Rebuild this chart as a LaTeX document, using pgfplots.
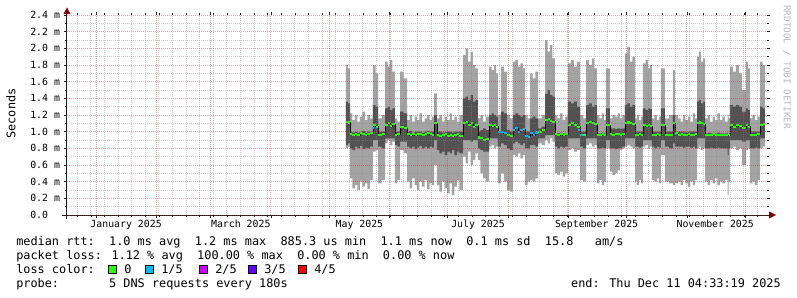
\documentclass[border=0pt]{standalone}
\usepackage{pgfplots}
\pgfplotsset{compat=1.18}
\usepackage{pgfplotstable}
\usepgfplotslibrary{fillbetween}
\usepackage{fontspec}
\setmainfont{DejaVu Sans Mono}

\definecolor{smokeL}{RGB}{163,163,163}
\definecolor{smokeD}{RGB}{82,82,82}
\definecolor{loss0}{RGB}{38,255,0}
\definecolor{loss1}{RGB}{0,184,255}
\definecolor{loss2}{RGB}{204,0,255}
\definecolor{loss3}{RGB}{102,0,255}
\definecolor{loss4}{RGB}{255,0,0}
\definecolor{mgrid}{RGB}{200,40,40}
\definecolor{mingrid}{RGB}{140,140,140}
\definecolor{axiscol}{RGB}{30,30,30}
\definecolor{arrowcol}{RGB}{127,0,0}
\definecolor{wmark}{RGB}{185,185,185}

% days since 1 Jan 2025; values in ms
\pgfplotstableread{
x T DT M DB B
128.6 1.80 1.36 1.12 0.84 0.80
129.6 1.76 1.34 1.11 0.86 0.82
130.7 1.22 1.00 0.97 0.80 0.44
131.9 1.14 0.99 0.96 0.78 0.32
133.2 1.20 1.00 0.97 0.82 0.36
134.4 1.12 0.99 0.96 0.80 0.30
135.8 1.18 1.00 0.98 0.83 0.40
137.0 1.24 1.01 0.97 0.79 0.34
138.4 1.14 0.99 0.96 0.81 0.38
139.6 1.20 1.00 0.97 0.80 0.31
140.9 1.16 1.00 0.98 0.82 0.42
142.5 1.80 1.32 1.08 0.90 0.76
143.8 1.70 1.30 1.06 0.90 0.78
145.1 1.16 1.00 0.96 0.82 0.38
146.9 1.20 1.00 0.97 0.80 0.42
148.7 1.84 1.28 1.08 0.92 0.86
150.0 1.78 1.30 1.10 0.92 0.90
151.2 1.86 1.26 1.07 0.92 0.84
152.5 1.72 1.28 1.09 0.92 0.88
153.8 1.16 1.00 0.96 0.84 0.38
155.1 1.12 1.00 0.97 0.82 0.42
156.4 1.72 1.24 1.06 0.88 0.78
158.2 1.64 1.22 1.04 0.88 0.74
160.0 1.14 1.00 0.97 0.82 0.40
161.3 1.20 1.01 0.96 0.80 0.32
162.6 1.12 0.99 0.97 0.82 0.44
163.9 1.18 1.00 0.96 0.79 0.36
165.1 1.14 1.00 0.97 0.81 0.30
166.4 1.22 1.00 0.97 0.83 0.40
167.7 1.12 0.99 0.96 0.80 0.34
169.0 1.16 1.00 0.97 0.82 0.42
170.3 1.20 1.01 0.98 0.80 0.31
171.6 1.14 1.00 0.97 0.82 0.38
172.9 1.18 1.00 0.96 0.81 0.36
173.9 1.46 1.20 1.10 0.90 0.60
175.4 1.16 1.00 0.96 0.78 0.36
176.7 1.20 1.00 0.95 0.74 0.28
178.0 1.12 0.99 0.96 0.76 0.40
179.3 1.18 1.00 0.97 0.72 0.32
180.6 1.14 1.00 0.95 0.76 0.26
181.9 1.22 1.00 0.96 0.74 0.38
183.1 1.14 0.99 0.95 0.78 0.24
184.4 1.18 1.00 0.96 0.72 0.34
185.7 1.12 1.00 0.97 0.76 0.42
187.0 1.20 1.00 0.95 0.74 0.30
188.8 1.92 1.40 1.10 0.90 0.70
190.1 2.00 1.42 1.12 0.90 0.62
191.4 1.84 1.38 1.08 0.90 0.76
192.7 1.96 1.44 1.10 0.88 0.60
193.9 1.80 1.36 1.06 0.90 0.66
195.2 1.76 1.38 1.08 0.90 0.74
196.5 1.16 1.00 0.93 0.80 0.66
197.8 1.20 1.02 0.92 0.78 0.50
199.1 1.12 1.04 0.90 0.76 0.44
200.6 1.18 1.02 0.91 0.76 0.40
202.2 1.78 1.20 1.08 0.92 0.82
203.5 1.74 1.22 1.07 0.92 0.84
204.7 1.80 1.20 1.08 0.92 0.80
205.8 1.70 1.18 1.06 0.92 0.82
206.8 1.20 1.00 1.00 0.82 0.38
208.3 1.78 1.24 1.00 0.86 0.50
209.8 1.72 1.22 0.98 0.84 0.40
211.4 1.20 1.02 0.96 0.80 0.30
213.0 1.16 1.00 0.95 0.78 0.28
214.5 1.84 1.20 1.02 0.86 0.72
215.8 1.86 1.22 1.04 0.88 0.70
217.1 1.78 1.20 1.00 0.86 0.74
218.3 1.82 1.18 1.02 0.84 0.68
219.6 1.76 1.20 1.03 0.86 0.72
220.7 1.20 1.00 0.95 0.80 0.36
222.0 1.16 1.00 0.94 0.80 0.40
223.3 1.70 1.16 0.98 0.84 0.42
224.6 1.64 1.18 0.96 0.84 0.40
226.0 1.72 1.16 0.99 0.82 0.44
227.4 1.16 1.04 1.00 0.92 0.86
229.2 1.20 1.06 1.02 0.92 0.84
231.0 2.10 1.45 1.14 0.96 0.90
232.3 1.96 1.50 1.15 0.96 0.86
233.5 2.04 1.44 1.13 0.96 0.92
234.8 1.88 1.42 1.12 0.96 0.88
236.1 1.20 0.98 0.97 0.82 0.50
237.4 1.16 0.98 0.96 0.80 0.48
238.7 1.22 0.99 0.97 0.82 0.52
240.0 1.14 0.98 0.96 0.81 0.46
241.4 1.18 0.98 0.97 0.82 0.50
242.8 1.82 1.36 1.08 0.92 0.78
244.3 1.86 1.34 1.10 0.92 0.80
245.9 1.78 1.36 1.08 0.92 0.76
247.4 1.84 1.30 1.06 0.92 0.78
249.0 1.20 1.00 0.96 0.82 0.42
250.6 1.16 1.00 0.96 0.80 0.40
252.1 1.86 1.32 1.10 0.92 0.84
253.6 1.80 1.34 1.12 0.92 0.86
255.1 1.88 1.30 1.10 0.92 0.82
256.4 1.76 1.32 1.09 0.92 0.84
257.7 1.20 0.98 0.96 0.80 0.38
259.0 1.16 0.98 0.96 0.80 0.42
260.3 1.22 0.99 0.97 0.81 0.36
261.3 1.14 0.98 0.96 0.80 0.40
262.3 1.76 1.28 1.08 0.90 0.80
264.4 1.16 1.04 0.97 0.80 0.52
265.7 1.20 1.04 0.96 0.80 0.48
267.0 1.18 1.03 0.97 0.79 0.50
268.3 1.22 1.04 0.97 0.80 0.54
269.5 1.16 1.03 0.96 0.80 0.78
270.8 1.20 1.04 0.97 0.82 0.80
272.1 1.94 1.32 1.10 0.92 0.82
273.4 2.02 1.34 1.11 0.92 0.84
274.7 1.84 1.30 1.10 0.92 0.82
276.0 1.90 1.32 1.09 0.92 0.80
277.3 1.16 1.00 0.96 0.82 0.40
278.3 1.20 1.00 0.96 0.82 0.36
279.3 1.14 1.00 0.97 0.81 0.42
280.4 1.18 1.00 0.96 0.82 0.38
281.4 1.82 1.28 1.08 0.90 0.82
282.7 1.86 1.26 1.07 0.90 0.84
283.9 1.76 1.28 1.08 0.90 0.80
285.0 1.80 1.27 1.07 0.90 0.82
286.0 1.16 1.00 0.96 0.82 0.42
287.3 1.20 1.00 0.96 0.80 0.40
288.6 1.14 1.00 0.97 0.82 0.44
289.6 1.18 1.00 0.96 0.81 0.38
290.6 1.76 1.28 1.08 0.90 0.72
292.7 1.16 1.00 0.96 0.82 0.40
294.8 1.20 1.00 0.96 0.80 0.38
296.8 1.74 1.20 1.10 0.86 0.36
297.8 1.20 1.00 0.98 0.82 0.38
299.4 1.16 1.00 0.96 0.82 0.40
300.7 1.12 1.00 0.97 0.82 0.36
301.9 1.20 1.00 0.96 0.81 0.42
303.2 1.14 0.99 0.96 0.82 0.38
304.5 1.18 1.00 0.97 0.82 0.34
305.8 1.12 1.00 0.96 0.81 0.40
307.1 1.22 1.00 0.96 0.82 0.36
308.2 1.16 1.00 0.97 0.80 0.42
309.2 1.90 1.36 1.10 0.92 0.80
310.2 1.96 1.38 1.11 0.92 0.82
311.2 1.84 1.34 1.10 0.92 0.78
312.3 1.88 1.36 1.09 0.92 0.80
313.4 1.16 0.98 0.96 0.80 0.40
314.7 1.20 0.99 0.96 0.80 0.36
315.9 1.12 0.98 0.96 0.81 0.42
317.2 1.18 0.98 0.97 0.80 0.38
318.4 1.14 0.98 0.96 0.80 0.44
319.7 1.22 0.99 0.96 0.81 0.36
321.0 1.14 0.98 0.96 0.80 0.40
322.3 1.18 0.98 0.96 0.80 0.38
323.6 1.12 0.98 0.96 0.80 0.42
324.9 1.20 0.99 0.97 0.72 0.24
325.5 1.16 0.98 0.96 0.80 0.40
326.1 1.78 1.32 1.08 0.90 0.80
327.6 1.72 1.30 1.06 0.90 0.82
329.2 1.80 1.32 1.08 0.90 0.78
330.7 1.70 1.30 1.07 0.90 0.80
332.3 1.50 1.24 1.04 0.88 0.60
334.4 1.84 1.28 1.08 0.90 0.78
335.4 1.76 1.26 1.06 0.90 0.80
336.4 1.16 1.00 0.96 0.80 0.38
337.7 1.20 1.00 0.96 0.80 0.40
339.0 1.14 1.00 0.96 0.81 0.36
340.3 1.18 1.00 0.97 0.80 0.42
341.6 1.84 1.30 1.08 0.92 0.80
342.9 1.80 1.28 1.09 0.92 0.82
344.1 1.80 1.28 1.09 0.92 0.82
}\smoke

\newcommand\lfont{\fontsize{8.9}{10}\selectfont}
\newcommand\tfont{\fontsize{7.4}{8}\selectfont}

\begin{document}
\begin{tikzpicture}
\tikzset{px/.style={shift={(-50.25pt,161.25pt)}, x=0.75pt, y=-0.75pt}}

\begin{axis}[
  scale only axis, width=525pt, height=150pt,
  at={(0,0)}, anchor=south west,
  xmin=-14.92, xmax=345.2, ymin=0, ymax=2.4,
  axis on top,
  axis line style={draw=none},
  xtick={0,31,59,90,120,151,181,212,243,273,304,334},
  minor xtick={-9.65,-2.65,...,345},
  ytick={0,0.2,0.4,0.6,0.8,1.0,1.2,1.4,1.6,1.8,2.0,2.2,2.4},
  minor ytick={0.1,0.3,0.5,0.7,0.9,1.1,1.3,1.5,1.7,1.9,2.1,2.3},
  xticklabels={}, yticklabels={},
  grid=both,
  major grid style={draw=mgrid, draw opacity=0.42, line width=0.75pt, dash pattern=on 0.75pt off 0.75pt},
  minor grid style={draw=mingrid, draw opacity=0.42, line width=0.75pt, dash pattern=on 0.75pt off 0.75pt},
  tick align=outside, major tick length=2.25pt, minor tick length=1.5pt,
  tick style={axiscol, line width=0.5pt},
]
\addplot[draw=none, const plot, name path=T] table[x=x,y=T]{\smoke};
\addplot[draw=none, const plot, name path=B] table[x=x,y=B]{\smoke};
\addplot[smokeL] fill between[of=T and B];
\addplot[draw=none, const plot, name path=DT] table[x=x,y=DT]{\smoke};
\addplot[draw=none, const plot, name path=DB] table[x=x,y=DB]{\smoke};
\addplot[smokeD] fill between[of=DT and DB];
\addplot[black, const plot, line width=0.5pt] table[x=x,y=M]{\smoke};
\addplot[loss0, jump mark left, line width=1.6pt] table[x=x,y=M]{\smoke};
\addplot[loss1, jump mark left, line width=1.6pt] coordinates {(142.2,1.04) (143.0,1.04)};
\addplot[loss1, jump mark left, line width=1.6pt] coordinates {(206.8,1.00) (208.3,1.00) (209.8,0.98) (211.4,0.98)};
\addplot[loss1, jump mark left, line width=1.6pt] coordinates {(214.5,1.02) (215.8,1.04) (217.1,1.00) (218.3,1.02) (219.6,1.03) (220.7,0.95) (222.0,0.94) (223.3,0.98) (224.6,0.96) (226.0,0.99) (227.4,1.00)};
\addplot[loss1, jump mark left, line width=1.6pt] coordinates {(247.9,1.02) (249.0,0.96) (250.4,0.96)};
\end{axis}

\begin{scope}[px]
  % axes with arrows
  \draw[axiscol, line width=0.75pt] (62,215) -- (770,215);
  \fill[arrowcol] (776,215) -- (769,211.5) -- (769,218.5) -- cycle;
  \draw[axiscol, line width=0.75pt] (67,219) -- (67,13);
  \fill[arrowcol] (67,7.5) -- (63.5,14) -- (70.5,14) -- cycle;
  % y tick labels
  \foreach \v/\lab in {0/0.0, 0.2/0.2 m, 0.4/0.4 m, 0.6/0.6 m, 0.8/0.8 m, 1.0/1.0 m, 1.2/1.2 m, 1.4/1.4 m, 1.6/1.6 m, 1.8/1.8 m, 2.0/2.0 m, 2.2/2.2 m, 2.4/2.4 m}
    \node[anchor=base west, inner sep=0pt, font=\tfont] at (30, {215-\v*83.3333+3.6}) {\lab};
  % x labels
  \foreach \xx/\lab in {126.1/January 2025, 240.8/March 2025, 359.4/May 2025, 478.0/July 2025, 596.6/September 2025, 715.2/November 2025}
    \node[anchor=base, inner sep=0pt, font=\tfont] at (\xx, 227.5) {\lab};
  % axis title
  \node[rotate=90, inner sep=0pt, font=\lfont] at (11,113.5) {Seconds};
  % watermark
  \node[rotate=-90, anchor=west, inner sep=0pt, font=\fontsize{7}{8}\selectfont, text=wmark] at (787,5) {RRDTOOL / TOBI OETIKER};
  % legend
  \node[anchor=base west, inner sep=0pt, font=\lfont] at (16,245) {median rtt:~~1.0 ms avg~~1.2 ms max~~885.3 us min~~1.1 ms now~~0.1 ms sd~~15.8~~~am/s};
  \node[anchor=base west, inner sep=0pt, font=\lfont] at (16,259) {packet loss: 1.12 \% avg~~100.00 \% max~~0.00 \% min~~0.00 \% now};
  \node[anchor=base west, inner sep=0pt, font=\lfont] at (16,273.3) {loss color:};
  \foreach \bx/\col/\lab in {108.5/loss0/0, 145.5/loss1/1\slash 5, 199.5/loss2/2\slash 5, 248.5/loss3/3\slash 5, 298.5/loss4/4\slash 5} {
    \filldraw[fill=\col, draw=black, line width=0.75pt] (\bx,265) rectangle ({\bx+8},273);
    \node[anchor=base west, inner sep=0pt, font=\lfont] at ({\bx+15.5},273.3) {\lab};
  }
  \node[anchor=base west, inner sep=0pt, font=\lfont] at (16,287.5) {probe:~~~~~~~5 DNS requests every 180s};
  \node[anchor=base east, inner sep=0pt, font=\lfont] at (781,287.5) {end: Thu Dec 11 04:33:19 2025};
\end{scope}
\pgfresetboundingbox
\path (-50.25pt,-61.5pt) rectangle (547.5pt,161.25pt);
\end{tikzpicture}
\end{document}
